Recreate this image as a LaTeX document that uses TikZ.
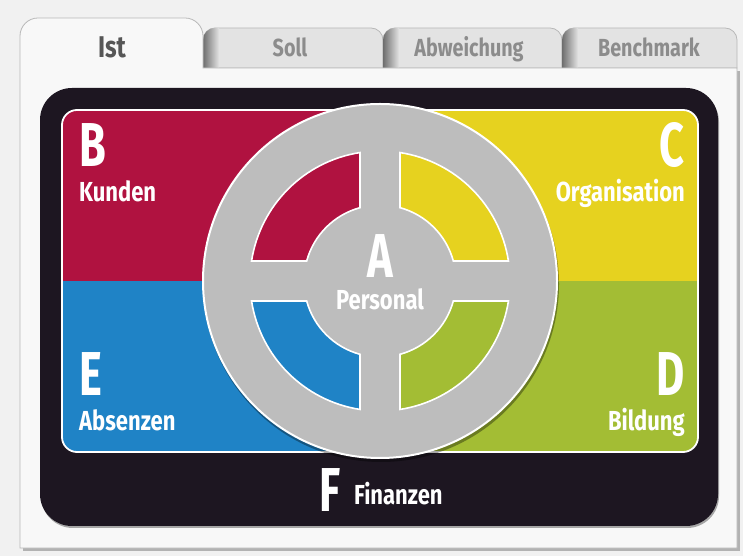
\documentclass[tikz,border=0pt]{standalone}
\usepackage{fontspec}
\newfontfamily\cond{Fira Sans}[FakeStretch=0.8]
\newfontfamily\condx{Fira Sans}[FakeStretch=0.7]
\usetikzlibrary{calc}
\definecolor{bgc}{HTML}{F1F1F1}
\definecolor{card}{HTML}{F8F8F8}
\definecolor{cardline}{HTML}{B8B8B8}
\definecolor{tabfill}{HTML}{E3E3E3}
\definecolor{tabshade}{HTML}{6E6E6E}
\definecolor{dark}{HTML}{1D1621}
\definecolor{cred}{HTML}{B01240}
\definecolor{cyel}{HTML}{E6D21F}
\definecolor{cblu}{HTML}{1F83C6}
\definecolor{cgrn}{HTML}{A3BD34}
\definecolor{ring}{HTML}{BDBDBD}
\definecolor{tabtext}{HTML}{8C8C8C}
\definecolor{acttext}{HTML}{565656}
\tikzset{
  bigletter/.style={font=\condx\bfseries\fontsize{62}{62}\selectfont, text=white, inner sep=0pt},
  lab/.style={font=\cond\bfseries\fontsize{27.5}{28}\selectfont, text=white, inner sep=0pt},
  tablab/.style={font=\cond\bfseries\fontsize{24.7}{25}\selectfont, text=tabtext, inner sep=0pt},
  actlab/.style={font=\cond\bfseries\fontsize{30}{30}\selectfont, text=acttext, inner sep=0pt},
  tabshape/.style={fill=tabfill, draw=cardline, line width=0.8pt},
  sector/.style={draw=white, line width=1.6pt}
}
\begin{document}
\begin{tikzpicture}[x=1pt,y=1pt]
\useasboundingbox (0,0) rectangle (743,556);
\fill[bgc] (0,0) rectangle (743,556);
% inactive tabs
\foreach \xa/\xb in {203/383, 383/562, 562/737}{
  \path[tabshape] (\xa,488) -- (\xa,516) arc[start angle=180,end angle=90,radius=12]
     -- ({\xb-12},528) arc[start angle=90,end angle=0,radius=12] -- (\xb,488) -- cycle;
  \begin{scope}
    \clip (\xa,488) -- (\xa,516) arc[start angle=180,end angle=90,radius=12]
     -- ({\xb-12},528) arc[start angle=90,end angle=0,radius=12] -- (\xb,488) -- cycle;
    \shade[left color=tabshade, right color=tabfill] (\xa,488) rectangle ({\xa+16},528);
  \end{scope}
}
% card shadow
\fill[black!30] (23,5) rectangle (740,485);
% card with active tab
\path[fill=card, draw=cardline, line width=0.8pt] (20,8) -- (20,520) arc[start angle=180,end angle=90,radius=18]
   -- (185,538) arc[start angle=90,end angle=0,radius=18] -- (203,488) -- (737,488) -- (737,8) -- cycle;
% tab labels
\node[actlab, anchor=base] (ist) at (112,498) {Ist};
\node[tablab, anchor=base] (soll) at (290,499) {Soll};
\node[tablab, anchor=base] (abw) at (469,499) {Abweichung};
\node[tablab, anchor=base] (bench) at (649,499) {Benchmark};
% dark frame
\fill[black!35, rounded corners=32] (41,28) rectangle (719,466);
\fill[dark, rounded corners=32] (40,30) rectangle (718,468);
% coloured quadrants
\coordinate (C) at (380,275);
\begin{scope}
  \clip[rounded corners=15] (62,104) rectangle (698,446);
  \fill[cred] (62,275) rectangle (380,446);
  \fill[cyel] (380,275) rectangle (698,446);
  \fill[cblu] (62,104) rectangle (380,275);
  \fill[cgrn] (380,104) rectangle (698,275);
\end{scope}
\draw[white, line width=1.8pt, rounded corners=15] (62,104) rectangle (698,446);
% ring
\fill[black, opacity=0.35] ($(C)+(1,-3)$) circle (178);
\fill[ring, draw=white, line width=2pt] (C) circle (177);
\foreach \rot/\col in {0/cyel, 90/cred, 180/cblu, 270/cgrn}{
  \begin{scope}[shift={(C)}, rotate=\rot]
    \path[sector, fill=\col] (15.26:76) -- (8.85:130) arc[start angle=8.85, end angle=81.15, radius=130]
      -- (74.74:76) arc[start angle=74.74, end angle=15.26, radius=76] -- cycle;
  \end{scope}
}
% labels
\node[bigletter, anchor=base west] (b) at (79,389) {B};
\node[lab, anchor=base west] (kunden) at (79,354) {Kunden};
\node[bigletter, anchor=base east] (c) at (685,389) {C};
\node[lab, anchor=base east] (org) at (685,354) {Organisation};
\node[bigletter, anchor=base west] (e) at (79,160) {E};
\node[lab, anchor=base west] (abs) at (79,125) {Absenzen};
\node[bigletter, anchor=base east] (d) at (685,160) {D};
\node[lab, anchor=base east] (bild) at (685,125) {Bildung};
\node[bigletter, anchor=base] (a) at (380,278) {A};
\node[lab, anchor=base] (pers) at (380,246) {Personal};
\node[bigletter, anchor=base west] (f) at (319,44) {F};
\node[lab, anchor=base west] (fin) at (354,51) {Finanzen};
\end{tikzpicture}
\end{document}
